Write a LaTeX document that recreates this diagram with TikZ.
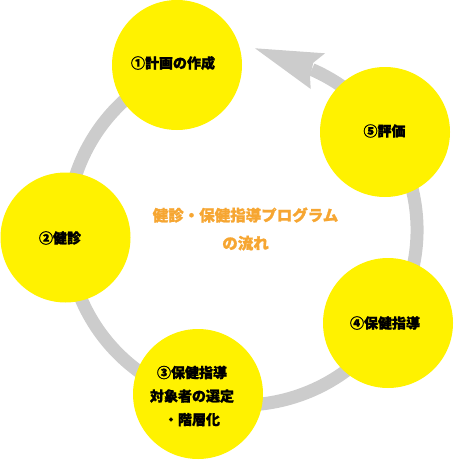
\documentclass[tikz,border=0pt]{standalone}
\usepackage{fontspec}
\newfontfamily\jpfont{Noto Sans CJK JP}[BoldFeatures={FakeBold=1.3}]
\usepackage{tikz}
\usetikzlibrary{calc}
\definecolor{ringgray}{HTML}{CCCCCC}
\definecolor{titleorange}{HTML}{F6A632}

\begin{document}
\begin{tikzpicture}[x=1pt, y=-1pt,
    stage/.style={circle, fill=yellow, minimum size=130pt, inner sep=0pt},
    stagetext/.style={font=\jpfont\bfseries\fontsize{14}{23.5}\selectfont, align=center, inner sep=0pt},
    titletext/.style={font=\jpfont\bfseries\fontsize{15.5}{28}\selectfont, text=titleorange, align=center, inner sep=0pt},
    ring/.style={draw=ringgray, line width=13pt}
  ]
  \useasboundingbox (0,0) rectangle (454,460);

  % Cycle
  \coordinate (hub) at (242,230);
  \draw[ring] ($(hub)+(250:175)$) arc[start angle=250, end angle=-66.5, radius=175];
  \fill[ringgray] (255,48.3) -- (325,53.3) -- (313.3,62.7) -- (310,76.7) -- (310.7,89) -- cycle;

  % Stages
  \node[stage] (plan) at (177,65) {};
  \node[stage] (checkup) at (65.5,237.5) {};
  \node[stage] (select) at (198,394) {};
  \node[stage] (guide) at (388,323) {};
  \node[stage] (review) at (385,132) {};

  \node[stagetext] (plantext) at (173,63) {①計画の作成};
  \node[stagetext] (checkuptext) at (60,238) {②健診};
  \node[stagetext] (selecttext) at (192,396) {③保健指導\\対象者の選定\\・階層化};
  \node[stagetext] (guidetext) at (385,323) {④保健指導};
  \node[stagetext] (reviewtext) at (384.5,131) {⑤評価};

  % Title
  \node[titletext] (title) at (245.5,229) {健診・保健指導プログラム\\の流れ};
\end{tikzpicture}
\end{document}
